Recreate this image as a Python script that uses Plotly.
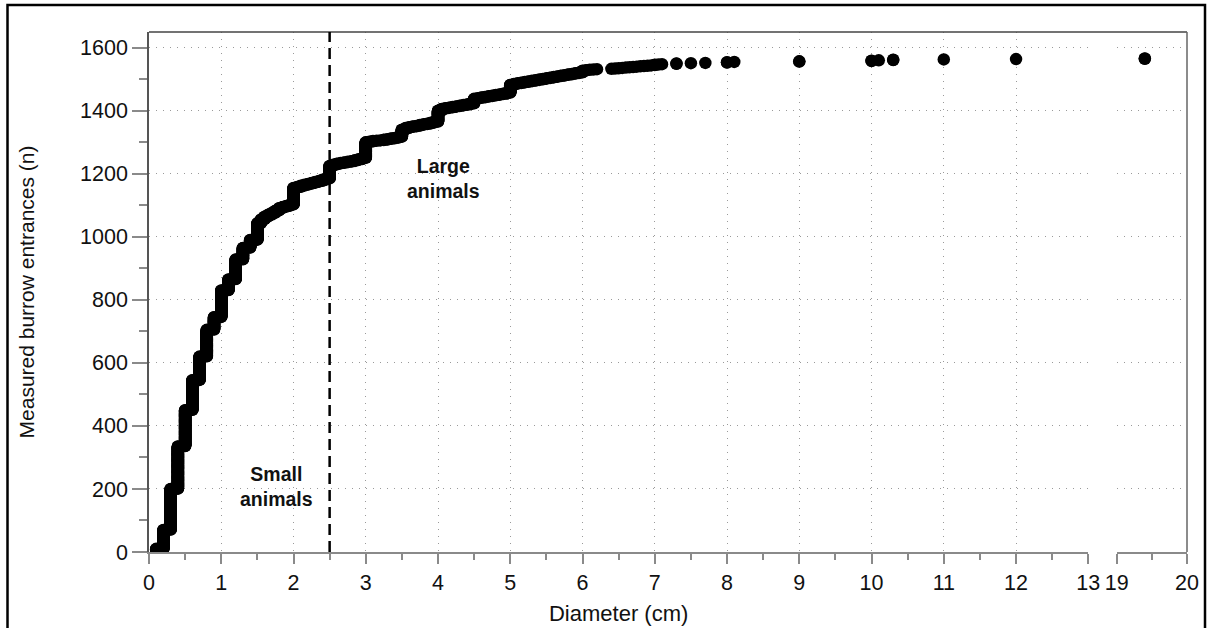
import plotly.graph_objects as go

# Distinct burrow-entrance diameters (cm) and cumulative number of measured entrances
diameter_cm = [0.1, 0.2, 0.3, 0.4, 0.5, 0.6, 0.7, 0.8, 0.9, 1.0,
               1.1, 1.2, 1.3, 1.4, 1.5, 1.55, 1.6, 1.65, 1.7, 1.75, 1.8, 1.85, 1.9, 1.95,
               2.0, 2.05, 2.1, 2.15, 2.2, 2.25, 2.3, 2.35, 2.4, 2.45,
               2.5, 2.55, 2.6, 2.65, 2.7, 2.75, 2.8, 2.85, 2.9, 2.95,
               3.0, 3.05, 3.1, 3.15, 3.2, 3.25, 3.3, 3.35, 3.4, 3.45,
               3.5, 3.55, 3.6, 3.65, 3.7, 3.75, 3.8, 3.85, 3.9, 3.95,
               4.0, 4.05, 4.1, 4.15, 4.2, 4.25, 4.3, 4.35, 4.4, 4.45,
               4.5, 4.55, 4.6, 4.65, 4.7, 4.75, 4.8, 4.85, 4.9, 4.95,
               5.0, 5.05, 5.1, 5.15, 5.2, 5.25, 5.3, 5.35, 5.4, 5.45, 5.5, 5.55,
               5.6, 5.65, 5.7, 5.75, 5.8, 5.85, 5.9, 5.95,
               6.0, 6.05, 6.1, 6.15, 6.2, 6.4, 6.45, 6.5, 6.55, 6.6, 6.65, 6.7, 6.75,
               6.8, 6.85, 6.9, 6.95, 7.0, 7.05, 7.1,
               7.3, 7.5, 7.7, 8.0, 8.1, 9.0, 10.0, 10.1, 10.3, 11.0, 12.0, 19.4]
cumulative_n = [10, 70, 200, 335, 450, 545, 620, 705, 745, 830,
                865, 928, 965, 990, 1043, 1055, 1064, 1070, 1076, 1083, 1091, 1095, 1098, 1102,
                1155, 1158, 1162, 1165, 1168, 1171, 1174, 1177, 1181, 1185,
                1225, 1229, 1232, 1234, 1236, 1238, 1240, 1243, 1246, 1250,
                1300, 1302, 1304, 1305, 1306, 1308, 1310, 1312, 1314, 1317,
                1340, 1345, 1348, 1350, 1352, 1355, 1357, 1359, 1362, 1365,
                1400, 1406, 1408, 1410, 1412, 1414, 1416, 1418, 1420, 1423,
                1438, 1440, 1442, 1444, 1446, 1448, 1450, 1452, 1454, 1457,
                1482, 1485, 1487, 1489, 1491, 1493, 1495, 1497, 1499, 1501, 1503, 1505,
                1507, 1509, 1511, 1513, 1515, 1517, 1519, 1521,
                1527, 1529, 1530, 1531, 1532, 1533, 1534, 1535, 1536, 1537, 1538, 1539, 1540,
                1541, 1542, 1543, 1544, 1546, 1547, 1548,
                1550, 1551, 1552, 1554, 1555, 1557, 1559, 1560, 1562, 1563, 1564, 1566]

x_ticks_main = list(range(0, 14))
x_ticks_tail = [19, 20]
y_ticks = list(range(0, 1601, 200))
small_label = "Small<br>animals"
large_label = "Large<br>animals"
size_threshold_cm = 2.5

# one point per measured entrance: x = diameter, y = its cumulative rank
xs, ys = [], []
prev = 0
for d, c in zip(diameter_cm, cumulative_n):
    for k in range(prev + 1, c + 1):
        xs.append(d)
        ys.append(k)
    prev = c

main_x = [x for x in xs if x <= 13]
main_y = [y for x, y in zip(xs, ys) if x <= 13]
tail_x = [x for x in xs if x >= 19]
tail_y = [y for x, y in zip(xs, ys) if x >= 19]

FONT = "Liberation Sans, Arial, Helvetica, sans-serif"
AX = "#8a8a8a"
GRID = "#9a9a9a"

fig = go.Figure()
fig.add_trace(go.Scatter(x=main_x, y=main_y, mode="markers", xaxis="x", yaxis="y",
                         marker=dict(size=12.5, color="black", line=dict(width=0)),
                         showlegend=False, hoverinfo="skip"))
fig.add_trace(go.Scatter(x=tail_x, y=tail_y, mode="markers", xaxis="x2", yaxis="y",
                         marker=dict(size=12.5, color="black", line=dict(width=0)),
                         showlegend=False, hoverinfo="skip"))

L, R, T, B = 149, 21, 32, 76
W, H = 1208, 628
pw = W - L - R
ph = H - T - B
d1 = (1088.3 - L) / pw
d2 = (1116.7 - L) / pw

common_x = dict(
    ticks="outside", ticklen=10, tickwidth=1.5, tickcolor=AX,
    showline=True, linecolor=AX, linewidth=1.5,
    showgrid=True, gridcolor=GRID, gridwidth=1, griddash="1px,6px",
    zeroline=False, tickfont=dict(size=21.5, color="#111", family=FONT),
    minor=dict(dtick=0.5, ticklen=6, tickwidth=1.5, tickcolor=AX, showgrid=False),
    fixedrange=True,
)

fig.update_layout(
    width=W, height=H,
    margin=dict(l=L, r=R, t=T, b=B, autoexpand=False),
    paper_bgcolor="white", plot_bgcolor="white",
    font=dict(family=FONT, color="#111", size=20),
    xaxis=dict(domain=[0, d1], range=[0, 13], tickvals=x_ticks_main, anchor="y",
               title=dict(text="Diameter (cm)", font=dict(size=22), standoff=12),
               automargin=False, **common_x),
    xaxis2=dict(domain=[d2, 1], range=[19, 20], tickvals=x_ticks_tail, anchor="y",
                automargin=False, **{**common_x, "minor": dict(tick0=19, dtick=0.5, ticklen=6, tickwidth=1.5,
                                                               tickcolor=AX, showgrid=False)}),
    yaxis=dict(range=[0, 1650], tickvals=y_ticks, anchor="x",
               ticks="outside", ticklen=15, tickwidth=1.5, tickcolor=AX,
               showline=True, linecolor="#555", linewidth=1.5,
               showgrid=True, gridcolor=GRID, gridwidth=1, griddash="1px,6px",
               zeroline=False, tickfont=dict(size=21.5, color="#111"),
               minor=dict(dtick=100, ticklen=8, tickwidth=1.5, tickcolor=AX, showgrid=False),
               title=dict(text="Measured burrow entrances (n)", font=dict(size=21), standoff=40),
               automargin=False, fixedrange=True),
    showlegend=False,
)

# plot frame (top / right) and outer figure border
fig.add_shape(type="line", xref="paper", yref="paper", x0=0, x1=1, y0=1, y1=1,
              line=dict(color="#444", width=1.5))
fig.add_shape(type="line", xref="paper", yref="paper", x0=1, x1=1, y0=0, y1=1,
              line=dict(color="#666", width=1.5))
fig.add_shape(type="rect", xref="paper", yref="paper",
              x0=(7.5 - L) / pw, x1=(1205 - L) / pw,
              y0=(H - B - 660) / ph, y1=(H - B - 5) / ph,
              line=dict(color="black", width=2.5), fillcolor="rgba(0,0,0,0)", layer="above")

# threshold between small and large animals
fig.add_shape(type="line", xref="x", yref="paper", x0=size_threshold_cm, x1=size_threshold_cm,
              y0=0, y1=1, line=dict(color="black", width=2.5, dash="11px,6px"))

fig.add_annotation(x=1.76, y=209, xref="x", yref="y", text=f"<b>{small_label}</b>",
                   showarrow=False, font=dict(size=19.5, color="#111"))
fig.add_annotation(x=4.07, y=1186, xref="x", yref="y", text=f"<b>{large_label}</b>",
                   showarrow=False, font=dict(size=19.5, color="#111"))

fig.write_html("out.html", config={"displayModeBar": False},
               post_script="document.body.style.margin='0px';")
